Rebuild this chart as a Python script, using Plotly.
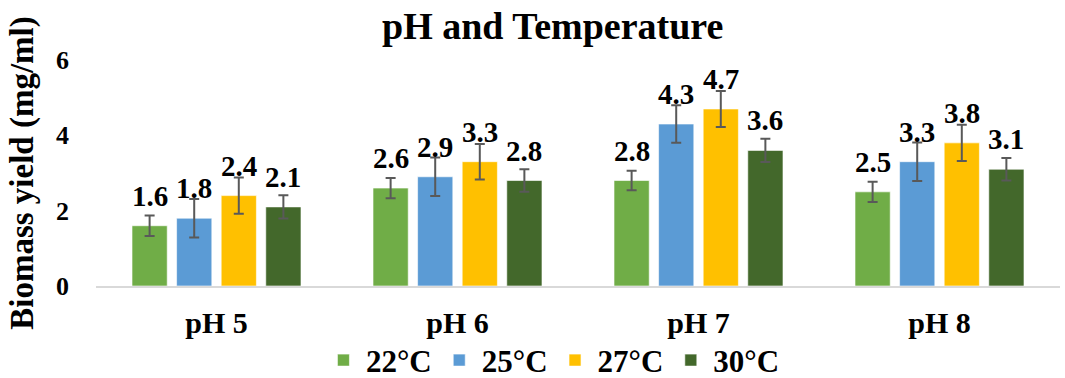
import plotly.graph_objects as go

categories = ["pH 5", "pH 6", "pH 7", "pH 8"]
series_names = ["22°C", "25°C", "27°C", "30°C"]
v22 = [1.6, 2.6, 2.8, 2.5]
v25 = [1.8, 2.9, 4.3, 3.3]
v27 = [2.4, 3.3, 4.7, 3.8]
v30 = [2.1, 2.8, 3.6, 3.1]
e22 = [0.27, 0.27, 0.26, 0.27]
e25 = [0.51, 0.51, 0.50, 0.51]
e27 = [0.48, 0.47, 0.48, 0.48]
e30 = [0.31, 0.30, 0.31, 0.30]
colors = ["#70AD47", "#5B9BD5", "#FFC000", "#43682B"]
y_ticks = [0, 2, 4, 6]

values = [v22, v25, v27, v30]
errors = [e22, e25, e27, e30]

FONT = "Liberation Serif"
BARGAP = 0.26

fig = go.Figure()
for name, vals, errs, col in zip(series_names, values, errors, colors):
    fig.add_trace(go.Bar(
        x=categories, y=vals, name=name,
        marker=dict(color=col, line=dict(color="rgba(255,255,255,0.6)", width=1)),
        error_y=dict(type="data", array=errs, visible=True, color="#595959", thickness=2, width=5),
    ))

# value labels above bars
n = len(series_names)
slot = (1 - BARGAP) / n
for j, vals in enumerate(values):
    for i, v in enumerate(vals):
        fig.add_annotation(
            x=i + (j - (n - 1) / 2) * slot, y=v, xref="x", yref="y",
            text=f"{v:.1f}", showarrow=False, yanchor="bottom",
            yshift=12, font=dict(family=FONT, size=29, color="black", weight="bold"),
        )

fig.update_layout(
    width=1065, height=378,
    margin=dict(l=96, r=5, t=60, b=92, autoexpand=False),
    paper_bgcolor="white", plot_bgcolor="white",
    barmode="group", bargap=BARGAP, bargroupgap=0.21,
    font=dict(family=FONT, color="black", weight="bold"),
    title=dict(text="pH and Temperature", x=0.519, xanchor="center", y=0.968, yanchor="top",
               font=dict(family=FONT, size=38, color="black", weight="bold")),
    legend=dict(orientation="h", x=0.474, xanchor="center", y=-0.21, yanchor="top",
                bgcolor="rgba(0,0,0,0)",
                font=dict(family=FONT, size=31, color="black", weight="bold"), traceorder="normal",
                itemwidth=35, tracegroupgap=0),
    showlegend=True,
)
fig.update_xaxes(
    showgrid=False, showline=True, linecolor="#D9D9D9", linewidth=1.5, automargin=False,
    tickfont=dict(family=FONT, size=30, color="black", weight="bold"), ticklabelstandoff=9,
)
fig.update_yaxes(
    range=[0, 6], tickvals=y_ticks, showgrid=False, zeroline=False, showline=False, automargin=False,
    tickfont=dict(family=FONT, size=26, color="black", weight="bold"),
    ticklabelstandoff=26,
    title=dict(text="Biomass yield (mg/ml)", font=dict(family=FONT, size=33, color="black", weight="bold"), standoff=12),
)

fig.write_html("out.html", config={"displayModeBar": False},
               post_script="document.body.style.margin='0';")
